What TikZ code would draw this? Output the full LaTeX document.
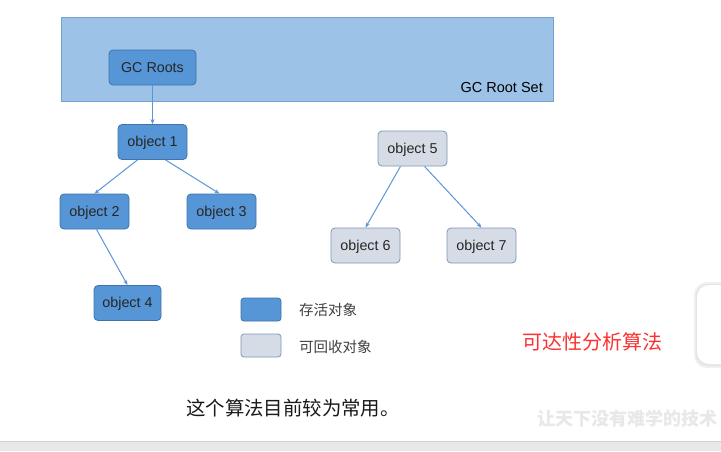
\documentclass[tikz,border=0pt]{standalone}
\usepackage{fontspec}
\setmainfont{Liberation Sans}
\newfontfamily\cjk{Noto Sans CJK SC}
\usetikzlibrary{arrows.meta,shadows}
\definecolor{setfill}{RGB}{157,194,232}
\definecolor{setdraw}{RGB}{120,160,205}
\definecolor{livefill}{RGB}{86,150,214}
\definecolor{livedraw}{RGB}{65,115,170}
\definecolor{deadfill}{RGB}{214,220,229}
\definecolor{deaddraw}{RGB}{125,150,185}
\definecolor{arrowc}{RGB}{90,150,215}
\definecolor{redtxt}{RGB}{250,50,50}
\tikzset{
  live/.style={draw=livedraw, fill=livefill, rounded corners=4pt, line width=0.8pt,
    minimum width=69pt, minimum height=35pt, font=\fontsize{14.3}{16}\selectfont, text=black!85, inner sep=0pt,
    text height=10.5pt, text depth=1pt},
  dead/.style={live, draw=deaddraw, fill=deadfill},
  conn/.style={draw=arrowc, line width=1pt, -{Stealth[length=5pt,width=4pt]}},
  legbox/.style={rounded corners=3pt, line width=0.8pt, minimum width=40pt, minimum height=23pt, inner sep=0pt},
  legtxt/.style={anchor=west, inner sep=0pt, font=\cjk\fontsize{14.5}{16}\selectfont, text=black!75}
}
\begin{document}
\begin{tikzpicture}[x=1pt,y=-1pt]
\useasboundingbox (0,0) rectangle (721,451);
\fill[white] (0,0) rectangle (721,451);
% root set
\node[draw=setdraw, fill=setfill, line width=0.8pt, minimum width=492pt, minimum height=84pt, inner sep=0pt] (set) at (307,59) {};
\node[anchor=south east, font=\fontsize{14.5}{16}\selectfont, inner sep=0pt] (setlbl) at (543,93) {GC Root Set};
\node[live, minimum width=87pt] (roots) at (152.5,67.5) {GC Roots};
% reachable objects
\node[live] (o1) at (152.5,142) {object 1};
\node[live] (o2) at (94.5,211.5) {object 2};
\node[live] (o3) at (221.5,211.5) {object 3};
\node[live, minimum width=67pt] (o4) at (127.5,303) {object 4};
% unreachable
\node[dead] (o5) at (412.5,148.5) {object 5};
\node[dead] (o6) at (365.5,245.5) {object 6};
\node[dead] (o7) at (481.5,245.5) {object 7};
% connectors
\draw[conn] (roots.south) -- (o1.north);
\draw[conn] ([xshift=-15pt]o1.south) -- (o2.north);
\draw[conn] ([xshift=13pt]o1.south) -- ([xshift=-2pt]o3.north);
\draw[conn] ([xshift=2pt]o2.south) -- (o4.north);
\draw[conn] ([xshift=-12pt]o5.south) -- (o6.north);
\draw[conn] ([xshift=12pt]o5.south) -- (o7.north);
% legend
\node[legbox, draw=livedraw, fill=livefill] (lg1) at (261,309.5) {};
\node[legbox, draw=deaddraw, fill=deadfill] (lg2) at (261,345.5) {};
\node[legtxt] (lt1) at (299,310) {存活对象};
\node[legtxt] (lt2) at (299,347) {可回收对象};
% texts
\node[anchor=west, font=\cjk\fontsize{20}{22}\selectfont, text=redtxt, inner sep=0pt] (red) at (522,342) {可达性分析算法};
\node[anchor=west, font=\cjk\fontsize{19.4}{21}\selectfont, text=black!90, inner sep=0pt] (bot) at (186,408) {这个算法目前较为常用。};
\node[anchor=west, font=\cjk\bfseries\fontsize{18}{20}\selectfont, text=black!9, inner sep=0pt] (wm) at (537,419) {让天下没有难学的技术};
% right side panel
\fill[black!6, rounded corners=13pt] (694,282) rectangle (745,368);
\fill[black!10, rounded corners=12pt] (695.5,284) rectangle (745,366);
\fill[white, rounded corners=12pt] (697,285) rectangle (745,364);
% bottom bar
\fill[black!9] (0,441) rectangle (721,451);
\draw[black!18, line width=0.8pt] (0,441) -- (721,441);
\end{tikzpicture}
\end{document}
